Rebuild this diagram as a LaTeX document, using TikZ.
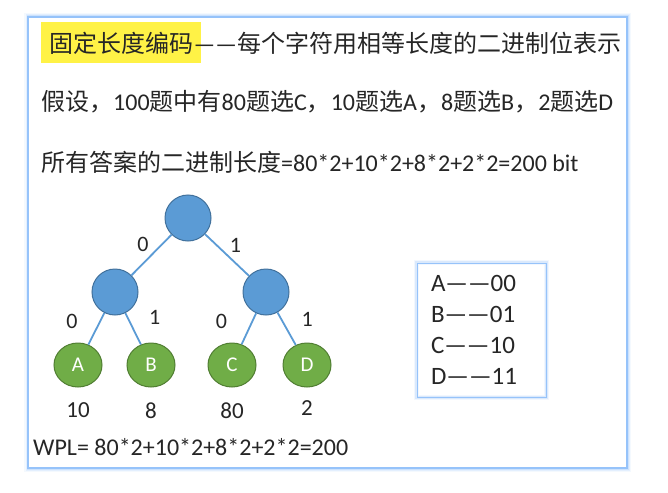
\documentclass[tikz,border=0pt]{standalone}
\usepackage{fontspec}
\setmainfont{Carlito}
\newfontfamily\cjk{Noto Sans CJK SC}
\usepackage{xcolor}
\usepackage{tikz}
\usetikzlibrary{positioning, shapes.geometric, fit, backgrounds}

\definecolor{nodeblue}{HTML}{5B9BD5}
\definecolor{nodeedge}{HTML}{41719C}
\definecolor{leafgreen}{HTML}{70AD47}
\definecolor{leafedge}{HTML}{507E32}
\definecolor{hlyellow}{RGB}{255,242,70}
\definecolor{glowblue}{RGB}{150,195,250}
\definecolor{txt}{RGB}{38,38,38}
\newcommand{\zh}[1]{{\cjk #1}}

\begin{document}
\begin{tikzpicture}[
    x=1pt, y=-1pt,
    every node/.style={text=txt},
    inode/.style={circle, draw=nodeedge, line width=1pt, fill=nodeblue, minimum size=46pt, inner sep=0pt},
    leaf/.style={ellipse, draw=leafedge, line width=1pt, fill=leafgreen, minimum width=48pt, minimum height=44pt, inner sep=0pt, text=white, font=\fontsize{21}{24}\selectfont},
    branch/.style={draw=nodeblue, line width=1.8pt},
    bit/.style={font=\fontsize{22}{26}\selectfont, inner sep=2pt},
    weight/.style={font=\fontsize{23}{26}\selectfont, inner sep=0pt},
    line/.style={anchor=west, inner sep=0pt, font=\fontsize{24}{28}\selectfont},
    codebox/.style={rectangle, fill=white, draw=glowblue, line width=1pt, minimum width=129pt, minimum height=134pt, text width=101pt, inner xsep=14pt, align=left, font=\fontsize{25}{31}\selectfont},
]
\useasboundingbox (0,0) rectangle (668,492);

% panel with soft blue frame
\begin{scope}[on background layer]
  \foreach \w/\o in {8/0.10, 5/0.18, 3/0.3} {
    \draw[glowblue, line width=\w pt, opacity=\o] (28,17) rectangle (627,468);
  }
  \fill[white] (28,17) rectangle (627,468);
  \draw[glowblue, line width=1.2pt] (28,17) rectangle (627,468);
\end{scope}

% heading lines
\node[line] (key) at (49,43) {\zh{固定长度编码}};
\node[line, right=0pt of key] (head) {——\zh{每个字符用相等长度的二进制位表示}};
\begin{scope}[on background layer]
  \node[fit=(key), fill=hlyellow, inner xsep=8pt, inner ysep=0pt, minimum height=41pt] (mark) {};
\end{scope}
\node[line] (case) at (41,102) {\zh{假设，}100\zh{题中有}80\zh{题选}C\zh{，}10\zh{题选}A\zh{，}8\zh{题选}B\zh{，}2\zh{题选}D};
\node[line] (total) at (41,162) {\zh{所有答案的二进制长度}=80*2+10*2+8*2+2*2=200 bit};

% coding tree
\node[inode] (root) at (188,218) {};
\node[inode] (n0) at (115,292) {};
\node[inode] (n1) at (266,292) {};
\node[leaf] (a) at (78,365) {A};
\node[leaf] (b) at (151,365) {B};
\node[leaf] (c) at (232,365) {C};
\node[leaf] (d) at (307,365) {D};

\draw[branch] (root) -- node[bit, above left]{0} (n0);
\draw[branch] (root) -- node[bit, above right]{1} (n1);
\draw[branch] (n0) -- node[bit, left, xshift=-16pt, yshift=7pt]{0} (a);
\draw[branch] (n0) -- node[bit, right, xshift=13pt, yshift=11pt]{1} (b);
\draw[branch] (n1) -- node[bit, left, xshift=-19pt, yshift=7pt]{0} (c);
\draw[branch] (n1) -- node[bit, right, xshift=12pt, yshift=9pt]{1} (d);

% weights
\node[weight, below=15pt of a] (wa) {10};
\node[weight, below=15pt of b] (wb) {8};
\node[weight, below=15pt of c] (wc) {80};
\node[weight, below=13pt of d] (wd) {2};

\node[line] (wpl) at (33,447) {WPL= 80*2+10*2+8*2+2*2=200};

% code table
\node[codebox] (code) at (481.5,330) {A——00\\B——01\\C——10\\D——11};
\foreach \w/\o in {5/0.12, 3/0.25} {
  \draw[glowblue, line width=\w pt, opacity=\o] (code.north west) rectangle (code.south east);
}
\end{tikzpicture}
\end{document}
